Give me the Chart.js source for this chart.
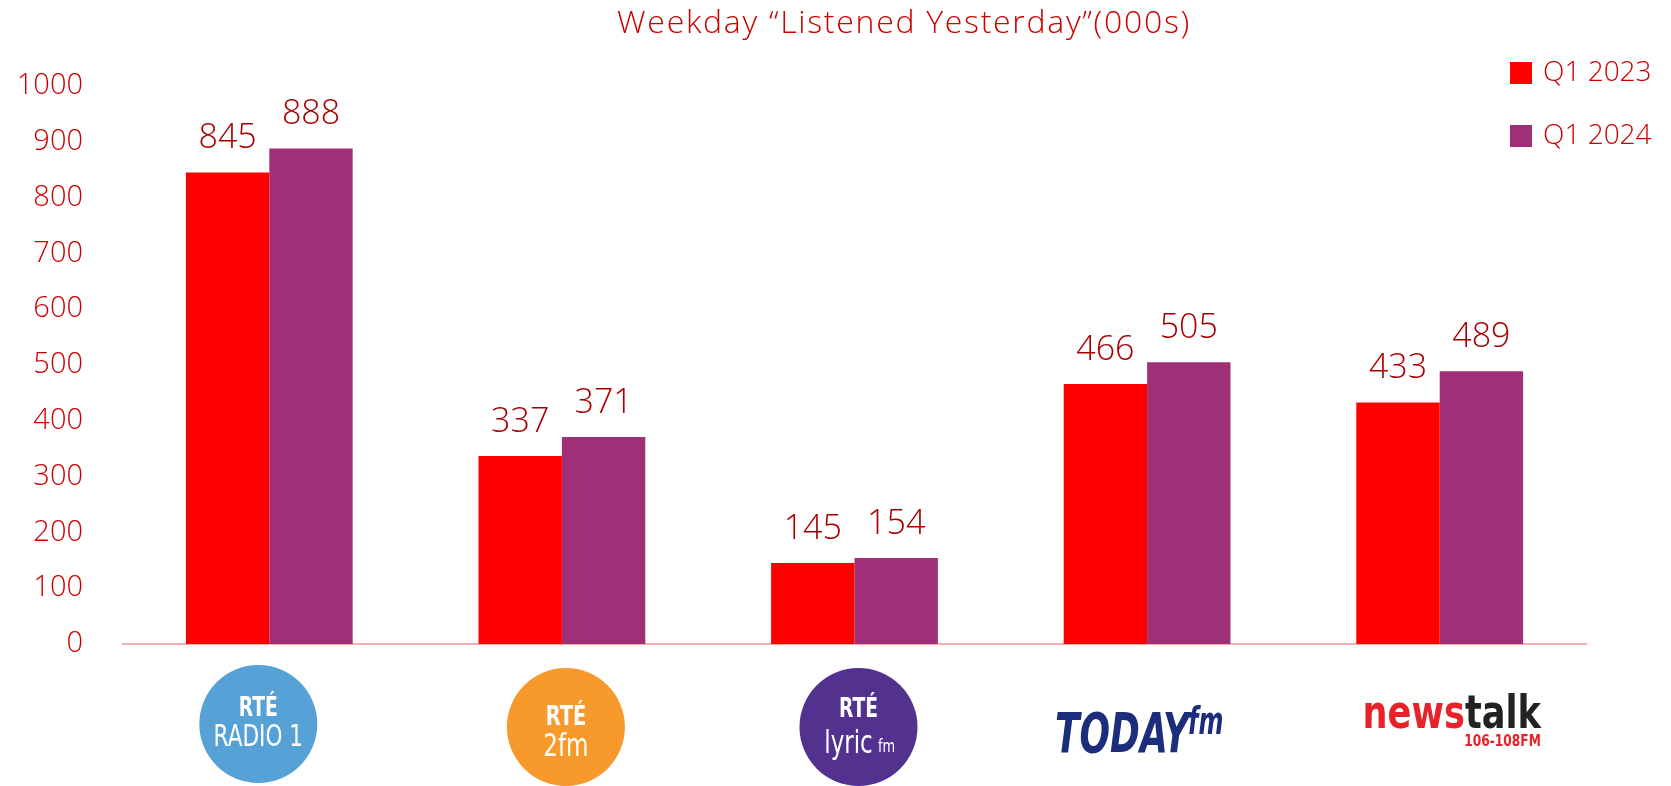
<!DOCTYPE html>
<html>
<head>
<meta charset="utf-8">
<script src="https://cdn.jsdelivr.net/npm/chart.js@4"></script>
<style>
  html,body{margin:0;padding:0;background:#fff;}
  #wrap{width:1671px;height:786px;}
</style>
</head>
<body>
<div id="wrap"><canvas id="c"></canvas></div>
<script>
const categories = ['RTÉ Radio 1','RTÉ 2fm','RTÉ lyric fm','Today FM','Newstalk'];
const q1_2023 = [845,337,145,466,433];
const q1_2024 = [888,371,154,505,489];
const seriesNames = ['Q1 2023','Q1 2024'];
const chartTitle = 'Weekday “Listened Yesterday”(000s)';
const yMax = 1000, yStep = 100;

const RED = '#ff0000', PURPLE = '#9f2f77', TXT = '#cc0000', FONT = '"Open Sans", Lato, sans-serif';
const NARROW = '"Liberation Sans Narrow", "DejaVu Sans Condensed", sans-serif';

// title sits a bit right of centre, like the source slide
const slideTitle = {
  id:'slideTitle',
  afterDraw(chart){
    const {ctx} = chart;
    ctx.save();
    ctx.fillStyle = TXT;
    ctx.font = '300 32px ' + FONT;
    ctx.letterSpacing = '1.7px';
    ctx.textAlign = 'center';
    ctx.textBaseline = 'middle';
    ctx.fillText(chartTitle, 904, 24);
    ctx.restore();
  }
};

// values above each bar
const valueLabels = {
  id:'valueLabels',
  afterDatasetsDraw(chart){
    const {ctx} = chart;
    ctx.save();
    ctx.fillStyle = '#a80000';
    ctx.font = '300 34px ' + FONT;
    ctx.textAlign = 'center';
    ctx.textBaseline = 'middle';
    chart.data.datasets.forEach((ds,di)=>{
      chart.getDatasetMeta(di).data.forEach((bar,i)=>{
        ctx.fillText(String(ds.data[i]), bar.x, bar.y - 34);
      });
    });
    ctx.restore();
  }
};

// legend stacked in the top right corner
const cornerLegend = {
  id:'cornerLegend',
  afterDraw(chart){
    const {ctx} = chart;
    ctx.save();
    ctx.font = '300 28px ' + FONT;
    ctx.textBaseline = 'middle';
    chart.data.datasets.forEach((ds,i)=>{
      const y = 73 + i*63;
      ctx.fillStyle = ds.backgroundColor;
      ctx.fillRect(1510, y-11, 22, 22);
      ctx.fillStyle = TXT;
      ctx.fillText(ds.label, 1543, y);
    });
    ctx.restore();
  }
};

// station logos under the axis, drawn with text
function circleLogo(ctx, x, cy, fill, lines){
  ctx.fillStyle = fill;
  ctx.beginPath();
  ctx.arc(x, cy, 59, 0, Math.PI*2);
  ctx.fill();
  ctx.fillStyle = '#fff';
  ctx.textAlign = 'center';
  ctx.textBaseline = 'middle';
  lines.forEach(l=>{
    ctx.save();
    ctx.translate(x + (l.dx||0), cy + l.dy);
    ctx.scale(0.8, 1);
    ctx.font = l.font;
    ctx.fillText(l.t, 0, 0);
    ctx.restore();
  });
}
const stationLogos = {
  id:'stationLogos',
  afterDraw(chart){
    const {ctx} = chart;
    const xs = chart.scales.x;
    ctx.save();
    categories.forEach((c,i)=>{
      const x = xs.getPixelForValue(i);
      if(i===0){
        circleLogo(ctx, x-11, 724, '#56a2d6', [
          {t:'RTÉ', font:'bold 26px '+NARROW, dy:-15},
          {t:'RADIO 1', font:'30px '+NARROW, dy:14}
        ]);
      }else if(i===1){
        circleLogo(ctx, x+4, 727, '#f7992b', [
          {t:'RTÉ', font:'bold 27px '+NARROW, dy:-9},
          {t:'2fm', font:'32px '+NARROW, dy:21}
        ]);
      }else if(i===2){
        circleLogo(ctx, x+4, 727, '#52318f', [
          {t:'RTÉ', font:'bold 26px '+NARROW, dy:-17},
          {t:'lyric', font:'32px '+NARROW, dy:18, dx:-10},
          {t:'fm', font:'18px '+NARROW, dy:20, dx:28}
        ]);
      }else if(i===3){
        ctx.save();
        ctx.fillStyle = '#1c2d7c';
        ctx.textBaseline = 'alphabetic';
        ctx.textAlign = 'left';
        ctx.translate(x - 92, 752);
        ctx.scale(0.95, 1.3);
        ctx.font = 'italic bold 42px ' + NARROW;
        ctx.fillText('TODAY', 0, 0);
        ctx.font = 'italic bold 28px ' + NARROW;
        ctx.fillText('fm', 140, -14);
        ctx.restore();
      }else{
        ctx.save();
        ctx.textBaseline = 'alphabetic';
        ctx.textAlign = 'left';
        ctx.font = 'bold 46px ' + NARROW;
        const w = ctx.measureText('news').width;
        const w2 = ctx.measureText('talk').width;
        const sx = 0.85;
        ctx.translate(x + 12 - sx*(w + w2)/2, 728);
        ctx.scale(sx, 1);
        ctx.fillStyle = '#e8222b';
        ctx.fillText('news', 0, 0);
        ctx.fillStyle = '#222';
        ctx.fillText('talk', w, 0);
        ctx.fillStyle = '#e8222b';
        ctx.font = 'bold 16px ' + NARROW;
        ctx.textAlign = 'right';
        ctx.fillText('106-108FM', w + w2, 18);
        ctx.restore();
      }
    });
    ctx.restore();
  }
};

new Chart(document.getElementById('c'), {
  type:'bar',
  data:{
    labels: categories,
    datasets:[
      {label:seriesNames[0], data:q1_2023, backgroundColor:RED},
      {label:seriesNames[1], data:q1_2024, backgroundColor:PURPLE}
    ]
  },
  options:{
    responsive:true,
    maintainAspectRatio:false,
    animation:false,
    layout:{padding:{left:0, right:85, bottom:142, top:86}},
    datasets:{bar:{categoryPercentage:0.57, barPercentage:1.0}},
    plugins:{
      legend:{display:false},
      tooltip:{enabled:false},
      title:{display:false}
    },
    scales:{
      x:{
        grid:{display:false, drawTicks:false},
        border:{color:'#f4b0b0', width:2},
        ticks:{display:false}
      },
      y:{
        min:0, max:yMax,
        grid:{display:false, drawTicks:false},
        border:{display:false},
        ticks:{stepSize:yStep, padding:40, color:TXT, font:{family:FONT, size:29, weight:'300'},
          callback:v=>String(v)},
        afterFit(scale){ scale.width = 123; }
      }
    }
  },
  plugins:[slideTitle, valueLabels, cornerLegend, stationLogos]
});
</script>
</body>
</html>
